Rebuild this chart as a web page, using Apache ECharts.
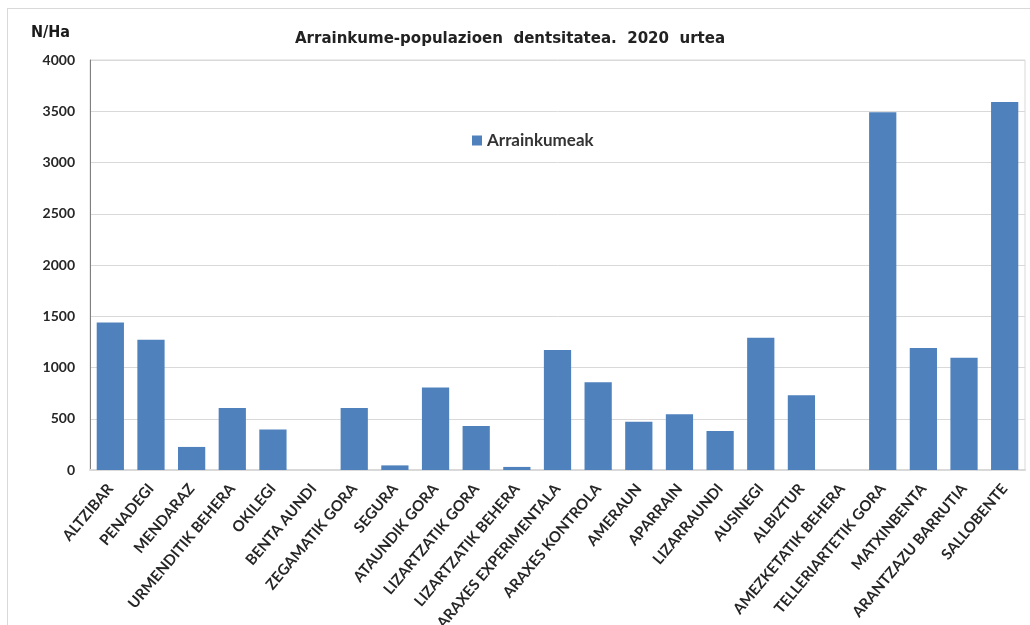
<!DOCTYPE html>
<html>
<head>
<meta charset="utf-8">
<script src="https://cdn.jsdelivr.net/npm/echarts@6/dist/echarts.min.js"></script>
<style>
html,body{margin:0;padding:0;background:#fff;}
#frame{position:absolute;left:7px;top:8px;width:1040px;height:640px;border:1px solid #d9d9d9;box-sizing:border-box;}
#chart{position:absolute;left:0;top:0;width:1030px;height:625px;}
</style>
</head>
<body>
<div id="frame"></div>
<div id="chart"></div>
<script>
const categories = ["ALTZIBAR","PENADEGI","MENDARAZ","URMENDITIK BEHERA","OKILEGI","BENTA AUNDI","ZEGAMATIK GORA","SEGURA","ATAUNDIK GORA","LIZARTZATIK GORA","LIZARTZATIK BEHERA","ARAXES EXPERIMENTALA","ARAXES KONTROLA","AMERAUN","APARRAIN","LIZARRAUNDI","AUSINEGI","ALBIZTUR","AMEZKETATIK BEHERA","TELLERIARTETIK GORA","MATXINBENTA","ARANTZAZU BARRUTIA","SALLOBENTE"];
const arrainkumeak = [1440,1270,225,605,395,0,605,45,805,430,30,1170,855,470,545,380,1290,730,0,3490,1190,1095,3590];
const seriesName = "Arrainkumeak";
const titleText = "Arrainkume-populazioen  dentsitatea.  2020  urtea";
const unitLabel = "N/Ha";

const condensed = "'DejaVu Sans Condensed','Liberation Sans Narrow',sans-serif";
const chart = echarts.init(document.getElementById('chart'), null, {renderer:'canvas'});
chart.setOption({
  animation:false,
  backgroundColor:'transparent',
  title:{
    text:titleText,
    left:505, top:25, textAlign:'center',
    textStyle:{fontFamily:condensed,fontSize:16.7,fontWeight:'bold',color:'#222'}
  },
  legend:{
    data:[seriesName],
    left:467, top:127,
    itemWidth:10, itemHeight:10, itemGap:6,
    icon:'rect',
    textStyle:{fontFamily:'Lato, sans-serif',fontSize:17,fontWeight:'bold',color:'#333'}
  },
  grid:{left:90,right:5,top:60,bottom:155,show:true,borderColor:'#d9d9d9',borderWidth:1,outerBoundsMode:'none',containLabel:false},
  xAxis:{
    type:'category',
    data:categories,
    axisLine:{lineStyle:{color:'#d9d9d9',width:2}},
    axisTick:{show:false},
    axisLabel:{interval:0,rotate:50,margin:16,fontFamily:'Lato, sans-serif',fontSize:15,fontWeight:'bold',color:'#262626'}
  },
  yAxis:{
    type:'value',
    min:0,max:4000,interval:500,
    name:unitLabel,
    nameLocation:'end',
    nameGap:19,
    nameTextStyle:{fontFamily:condensed,fontSize:16,fontWeight:'bold',color:'#1a1a1a',align:'right',padding:[0,20,0,0]},
    axisLine:{show:true,lineStyle:{color:'#808080',width:1}},
    axisTick:{show:false},
    splitLine:{lineStyle:{color:'#d9d9d9',width:1}},
    axisLabel:{margin:15,formatter:function(v){return String(v);},fontFamily:'Lato, sans-serif',fontSize:14,fontWeight:'bold',color:'#262626'}
  },
  series:[{
    name:seriesName,
    type:'bar',
    data:arrainkumeak,
    barCategoryGap:'33%',
    itemStyle:{color:'#4f81bd'}
  }]
});
</script>
</body>
</html>
